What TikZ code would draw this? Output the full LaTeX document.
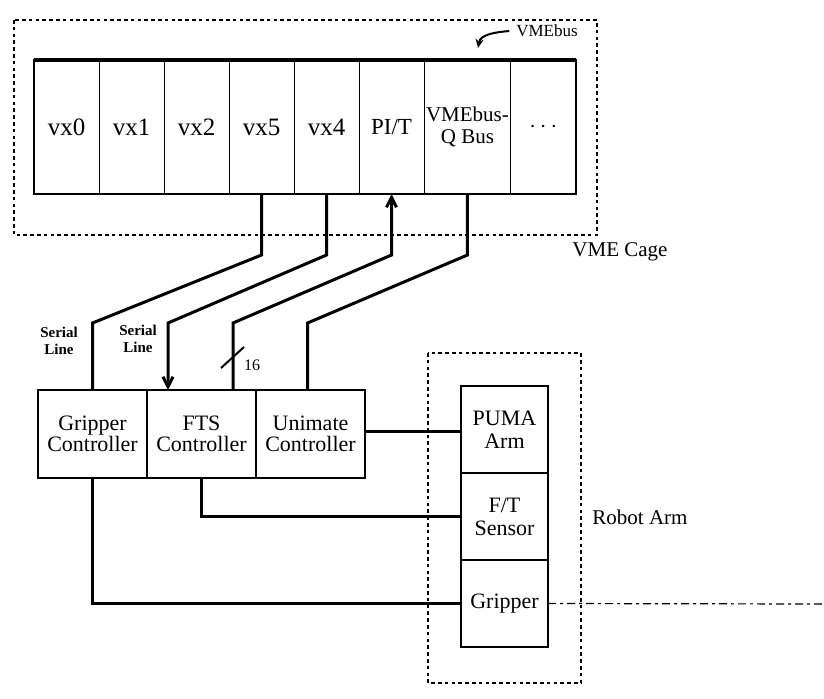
\documentclass[tikz,border=0pt]{standalone}
\usepackage{fontspec}
\setmainfont{Liberation Serif}
\usetikzlibrary{positioning,arrows.meta}

\begin{document}
\begin{tikzpicture}[
			x=0.5pt, y=-0.5pt,
			node distance=0pt,
			slot/.style={
					draw,
					line width=0.5pt,
					outer sep=0pt,
					inner sep=1pt,
					align=center,
					minimum width=32.5pt,
					minimum height=67pt,
					font=\fontsize{12.5}{13}\selectfont
				},
			ctl/.style={
					draw,
					line width=0.7pt,
					outer sep=0pt,
					inner sep=1pt,
					align=center,
					minimum width=54.5pt,
					minimum height=44pt,
					font=\fontsize{11}{10.5}\selectfont
				},
			part/.style={
					draw,
					line width=0.7pt,
					outer sep=0pt,
					inner sep=1pt,
					align=center,
					minimum width=43.5pt,
					minimum height=43.5pt,
					font=\fontsize{11}{11.5}\selectfont
				},
			cage/.style={draw, line width=0.9pt, dash pattern=on 1.8pt off 1.6pt},
			wire/.style={line width=1.5pt},
			tag/.style={font=\fontsize{10.5}{11}\selectfont},
			small/.style={font=\bfseries\fontsize{7.5}{8.5}\selectfont, align=center, inner sep=0pt},
			>={Straight Barb[length=5pt,width=5pt]}
		]

		\useasboundingbox (0,0) rectangle (824,698);

		% VME cage
		\draw[cage] (14,20) rectangle (597,235);

		\node (vx0) [slot, anchor=north west] at (34,60) {vx0};
		\node (vx1) [slot, right=of vx0] {vx1};
		\node (vx2) [slot, right=of vx1] {vx2};
		\node (vx5) [slot, right=of vx2] {vx5};
		\node (vx4) [slot, right=of vx5] {vx4};
		\node (pit) [slot, right=of vx4, font=\fontsize{11.5}{12}\selectfont] {PI/T};
		\node (vmeq) [slot, right=of pit,
			minimum width=42.5pt,
			font=\fontsize{10.5}{11}\selectfont]
		{VMEbus-\\Q Bus};
		\node (more) [slot, right=of vmeq] {$\cdots$};

		\draw[line width=1pt] (vx0.north west) rectangle (more.south east);
		\draw[line width=1.6pt] (vx0.north west) -- (more.north east);

		\node (vmebuslbl) [font=\fontsize{8.5}{9}\selectfont] at (547,31) {VMEbus};
		\coordinate (busmark) at (478,48);
		\draw[line width=1pt, -{Stealth[length=4.5pt,width=4pt]}]
		(vmebuslbl.west) to[out=185,in=80] (busmark);

		\node (cagelbl) [tag] at (620,252) {VME Cage};

		% controllers
		\node (gripctl) [ctl, anchor=north west] at (38,390) {Gripper\\Controller};
		\node (ftsctl) [ctl, right=of gripctl] {FTS\\Controller};
		\node (unictl) [ctl, right=of ftsctl] {Unimate\\Controller};
		\draw[line width=1pt] (gripctl.north west) rectangle (unictl.south east);

		% robot arm
		\draw[cage] (428,353) rectangle (581,683);

		\node (puma) [part, anchor=north west] at (461,386) {PUMA\\Arm};
		\node (ftsens) [part, below=of puma] {F/T\\Sensor};
		\node (gripper) [part, below=of ftsens] {Gripper};
		\draw[line width=1pt] (puma.north west) rectangle (gripper.south east);

		\node (armlbl) [tag] at (640,517) {Robot Arm};

		% bus wires
		\draw[wire] (vx5.south) -- ++(0,61)
		-- ([yshift=33.5pt]gripctl.north) -- (gripctl.north);
		\draw[wire,->] (vx4.south) -- ++(0,61)
		-- ([xshift=-16.75pt,yshift=33.5pt]ftsctl.north) -- ([xshift=-16.75pt]ftsctl.north);
		\draw[wire,->] ([xshift=15.75pt]ftsctl.north) -- ([xshift=15.75pt,yshift=33.5pt]ftsctl.north)
		-- ([yshift=-30.5pt]pit.south) -- (pit.south);
		\draw[wire] (vmeq.south) -- ++(0,61)
		-- ([xshift=-1.5pt,yshift=33.5pt]unictl.north) -- ([xshift=-1.5pt]unictl.north);

		\node (ser1) [small] at (59,341) {Serial\\Line};
		\node (ser2) [small] at (138,339) {Serial\\Line};

		\coordinate (w16) at ([xshift=15.75pt,yshift=16.5pt]ftsctl.north);
		\draw[line width=1pt] ([shift={(-12,11)}]w16) -- ([shift={(11,-10)}]w16);
		\node (n16) [font=\fontsize{8}{9}\selectfont] at ([shift={(19,8)}]w16) {16};

		% arm wires
		\draw[wire] ([yshift=1.5pt]unictl.east) -- ([yshift=1.5pt]unictl.east -| puma.west);
		\draw[wire] (ftsctl.south) |- (ftsens.west);
		\draw[wire] (gripctl.south) |- (gripper.west);

		\coordinate (tail) at (824,604);
		\draw[line width=0.6pt, dash pattern=on 4pt off 2pt on 1.5pt off 2pt] (gripper.east) -- (tail);

	\end{tikzpicture}
\end{document}
